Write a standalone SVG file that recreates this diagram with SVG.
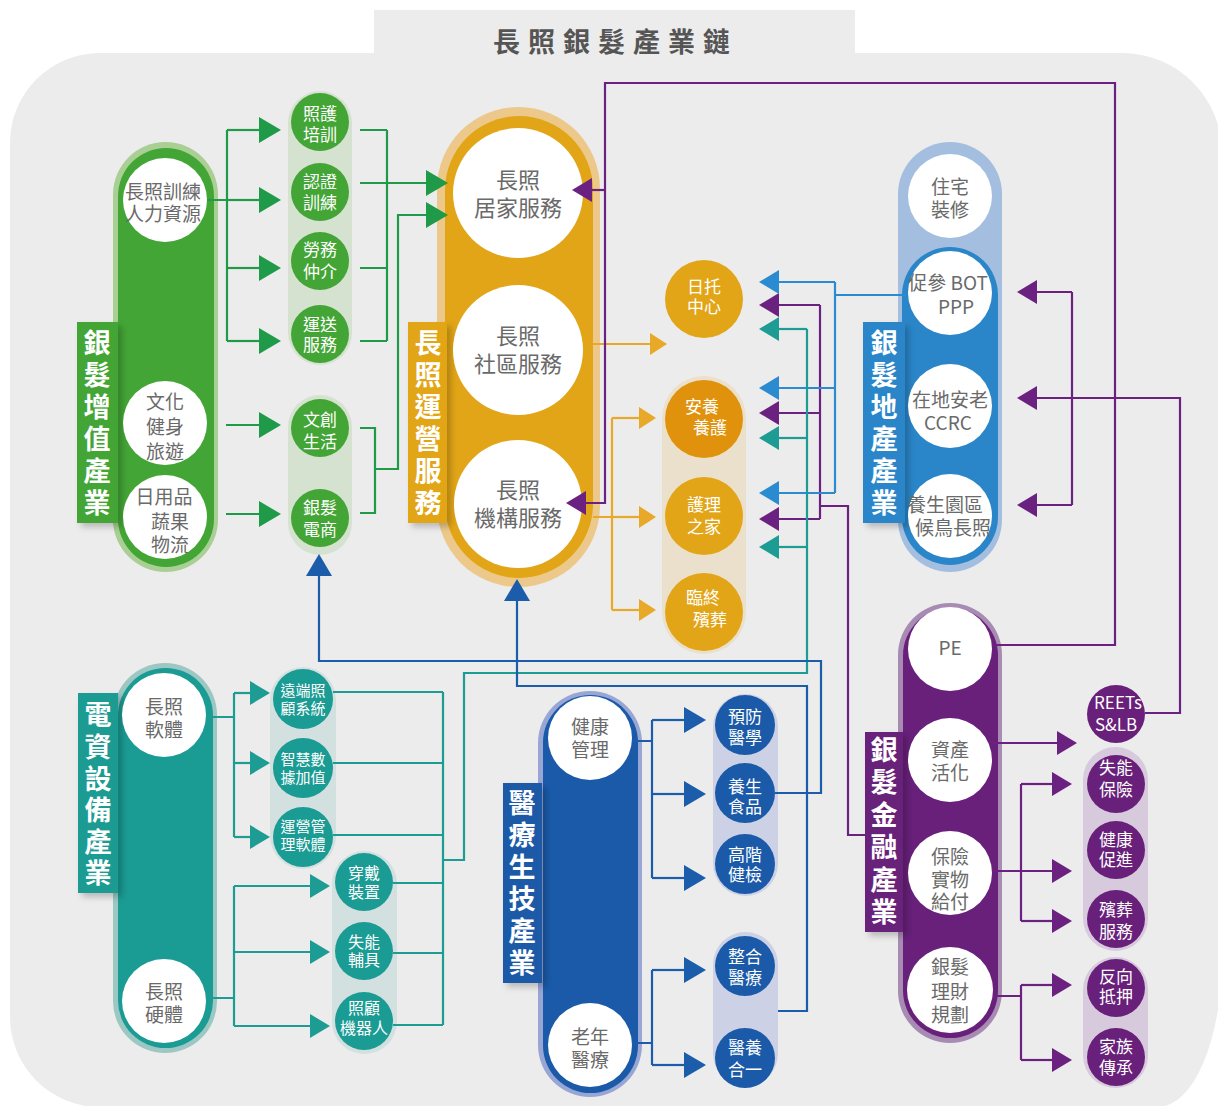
<svg xmlns="http://www.w3.org/2000/svg" width="1218" height="1106" viewBox="0 0 1218 1106">
<defs>
<style>
text{font-family:"Noto Sans CJK TC","Noto Sans CJK SC",sans-serif}
.big{font-size:19px;fill:#6a6a6a;text-anchor:middle}
.yb{font-size:22px;fill:#6a6a6a;text-anchor:middle}
.sm{font-size:17px;fill:#fff;text-anchor:middle}
.xs{font-size:15px;fill:#fff;text-anchor:middle}
.lab{font-size:27px;font-weight:bold;fill:#fff;text-anchor:middle}
.wc{fill:#fff}
.c{fill:none;stroke-width:2.2}
.cg{stroke:#1f9a48}.cy{stroke:#e8a828}.cp{stroke:#6b2180}.ce{stroke:#2a8bd0}.ct{stroke:#1d9c94}.cm{stroke:#1b5cab}
</style>
<filter id="sh" x="-30%" y="-10%" width="180%" height="130%"><feDropShadow dx="4" dy="4" stdDeviation="3" flood-color="#000" flood-opacity="0.22"/></filter>
<marker id="ag" viewBox="0 0 22 26" refX="0" refY="13" markerWidth="22" markerHeight="26" markerUnits="userSpaceOnUse" orient="auto"><path d="M0,0 L22,13 L0,26 Z" fill="#1f9a48"/></marker>
<marker id="ay" viewBox="0 0 17 22" refX="0" refY="11" markerWidth="17" markerHeight="22" markerUnits="userSpaceOnUse" orient="auto"><path d="M0,0 L17,11 L0,22 Z" fill="#e8a828"/></marker>
<marker id="ap" viewBox="0 0 20 24" refX="0" refY="12" markerWidth="20" markerHeight="24" markerUnits="userSpaceOnUse" orient="auto"><path d="M0,0 L20,12 L0,24 Z" fill="#6b2180"/></marker>
<marker id="ae" viewBox="0 0 20 24" refX="0" refY="12" markerWidth="20" markerHeight="24" markerUnits="userSpaceOnUse" orient="auto"><path d="M0,0 L20,12 L0,24 Z" fill="#2a8bd0"/></marker>
<marker id="at" viewBox="0 0 20 24" refX="0" refY="12" markerWidth="20" markerHeight="24" markerUnits="userSpaceOnUse" orient="auto"><path d="M0,0 L20,12 L0,24 Z" fill="#1d9c94"/></marker>
<marker id="am" viewBox="0 0 22 26" refX="0" refY="13" markerWidth="22" markerHeight="26" markerUnits="userSpaceOnUse" orient="auto"><path d="M0,0 L22,13 L0,26 Z" fill="#1b5cab"/></marker>
</defs>

<rect width="1218" height="1106" fill="#fff"/>
<path d="M10,143 A90,90 0 0 1 100,53 H1122 A100,100 0 0 1 1222,153 V957 A64,150 0 0 1 1158,1107 H100 A90,90 0 0 1 10,1017 Z" fill="#ececec"/>
<rect x="374" y="10" width="481" height="46" fill="#ececec"/>
<text x="493" y="52" style="font-size:27px;font-weight:bold;fill:#555;letter-spacing:8px">長照銀髮產業鏈</text>

<!-- containers -->
<g id="containers">
<rect x="113" y="142" width="105" height="430" rx="52.5" fill="#a9cf94"/>
<rect x="118" y="148" width="96" height="419" rx="48" fill="#43a535"/>
<rect x="288" y="91" width="64" height="274" rx="32" fill="#d6e2d0"/>
<rect x="288" y="395" width="64" height="160" rx="32" fill="#d6e2d0"/>

<rect x="437" y="107" width="163" height="480" rx="81.5" fill="#ecc98b"/>
<rect x="445" y="116" width="148" height="462" rx="74" fill="#e2a517"/>
<rect x="662" y="376" width="84" height="278" rx="42" fill="#ebe0cb"/>

<rect x="898" y="142" width="104" height="430" rx="52" fill="#a4bee0"/>
<rect x="902" y="247" width="96" height="318" rx="48" fill="#2a86c9"/>

<rect x="898" y="603" width="104" height="440" rx="52" fill="#a88bb3"/>
<rect x="903" y="608" width="95" height="430" rx="47.5" fill="#68207a"/>
<rect x="1083" y="747" width="65" height="204" rx="32.5" fill="#d8cadd"/>
<rect x="1083" y="957" width="65" height="131" rx="32.5" fill="#d8cadd"/>

<rect x="113" y="663" width="104" height="390" rx="52" fill="#9cc7c3"/>
<rect x="118" y="668" width="95" height="380" rx="47.5" fill="#1a9b93"/>
<rect x="270" y="667" width="66" height="202" rx="33" fill="#d3e0e0"/>
<rect x="332" y="851" width="65" height="203" rx="32.5" fill="#d3e0e0"/>

<rect x="538" y="691" width="104" height="406" rx="52" fill="#97a6d4"/>
<rect x="543" y="695" width="95" height="398" rx="47.5" fill="#1a5aa8"/>
<rect x="713" y="694" width="65" height="202" rx="32.5" fill="#cdd1e5"/>
<rect x="713" y="932" width="65" height="154" rx="32.5" fill="#cdd1e5"/>
</g>

<!-- 銀髮增值產業 -->
<g id="g-silver-value">
<rect x="77" y="322" width="41" height="201" fill="#43a535" filter="url(#sh)"/>
<text class="lab"><tspan x="97" y="353">銀</tspan><tspan x="97" y="385">髮</tspan><tspan x="97" y="417">增</tspan><tspan x="97" y="449">值</tspan><tspan x="97" y="481">產</tspan><tspan x="97" y="513">業</tspan></text>
</g>
<g id="n-hr"><circle class="wc" cx="165" cy="200" r="42"/><text class="big"><tspan x="163" y="199">長照訓練</tspan><tspan x="163" y="221">人力資源</tspan></text></g>
<g id="n-culture"><circle class="wc" cx="165" cy="423" r="42"/><text class="big"><tspan x="165" y="409">文化</tspan><tspan x="165" y="434">健身</tspan><tspan x="165" y="459">旅遊</tspan></text></g>
<g id="n-daily"><circle class="wc" cx="165" cy="517" r="42"/><text class="big"><tspan x="164" y="504">日用品</tspan><tspan x="170" y="529">蔬果</tspan><tspan x="170" y="552">物流</tspan></text></g>
<g id="n-cg-train"><circle cx="320" cy="122" r="29" fill="#43a535"/><text class="sm"><tspan x="320" y="120">照護</tspan><tspan x="320" y="141">培訓</tspan></text></g>
<g id="n-cert"><circle cx="320" cy="192" r="29" fill="#43a535"/><text class="sm"><tspan x="320" y="188">認證</tspan><tspan x="320" y="209">訓練</tspan></text></g>
<g id="n-labor"><circle cx="320" cy="261" r="29" fill="#43a535"/><text class="sm"><tspan x="320" y="256">勞務</tspan><tspan x="320" y="278">仲介</tspan></text></g>
<g id="n-transport"><circle cx="320" cy="334" r="29" fill="#43a535"/><text class="sm"><tspan x="320" y="331">運送</tspan><tspan x="320" y="351">服務</tspan></text></g>
<g id="n-creative"><circle cx="320" cy="428" r="29" fill="#43a535"/><text class="sm"><tspan x="320" y="426">文創</tspan><tspan x="320" y="448">生活</tspan></text></g>
<g id="n-ecommerce"><circle cx="320" cy="518" r="29" fill="#43a535"/><text class="sm"><tspan x="320" y="514">銀髮</tspan><tspan x="320" y="536">電商</tspan></text></g>

<!-- 長照運營服務 -->
<g id="g-ltc-ops">
<rect x="408" y="322" width="39" height="201" fill="#e2a517" filter="url(#sh)"/>
<text class="lab"><tspan x="428" y="353">長</tspan><tspan x="428" y="385">照</tspan><tspan x="428" y="417">運</tspan><tspan x="428" y="449">營</tspan><tspan x="428" y="481">服</tspan><tspan x="428" y="513">務</tspan></text>
</g>
<g id="n-home"><circle class="wc" cx="518" cy="193" r="65"/><text class="yb"><tspan x="518" y="188">長照</tspan><tspan x="518" y="216">居家服務</tspan></text></g>
<g id="n-community"><circle class="wc" cx="518" cy="350" r="65"/><text class="yb"><tspan x="518" y="344">長照</tspan><tspan x="518" y="372">社區服務</tspan></text></g>
<g id="n-institution"><circle class="wc" cx="518" cy="504" r="64"/><text class="yb"><tspan x="518" y="498">長照</tspan><tspan x="518" y="526">機構服務</tspan></text></g>
<g id="n-daycare"><circle cx="704" cy="299" r="39" fill="#e3a518"/><text class="sm"><tspan x="704" y="293">日托</tspan><tspan x="704" y="313">中心</tspan></text></g>
<g id="n-nursing"><circle cx="704" cy="419" r="39" fill="#e0920d"/><text class="sm"><tspan x="702" y="413">安養</tspan><tspan x="710" y="434">養護</tspan></text></g>
<g id="n-carehome"><circle cx="704" cy="516" r="39" fill="#e3a518"/><text class="sm"><tspan x="704" y="511">護理</tspan><tspan x="704" y="533">之家</tspan></text></g>
<g id="n-hospice"><circle cx="704" cy="612" r="39" fill="#e3a518"/><text class="sm"><tspan x="703" y="604">臨終</tspan><tspan x="710" y="626">殯葬</tspan></text></g>

<!-- 銀髮地產產業 -->
<g id="g-estate">
<rect x="863" y="322" width="42" height="201" fill="#2a86c9" filter="url(#sh)"/>
<text class="lab"><tspan x="884" y="353">銀</tspan><tspan x="884" y="385">髮</tspan><tspan x="884" y="417">地</tspan><tspan x="884" y="449">產</tspan><tspan x="884" y="481">產</tspan><tspan x="884" y="513">業</tspan></text>
</g>
<g id="n-renovation"><circle class="wc" cx="950" cy="196" r="42"/><text class="big"><tspan x="950" y="194">住宅</tspan><tspan x="950" y="217">裝修</tspan></text></g>
<g id="n-bot"><circle class="wc" cx="950" cy="293" r="42"/><text class="big"><tspan x="948" y="290">促參 BOT</tspan><tspan x="956" y="314">PPP</tspan></text></g>
<g id="n-ccrc"><circle class="wc" cx="950" cy="406" r="42"/><text class="big"><tspan x="950" y="407">在地安老</tspan><tspan x="948" y="430">CCRC</tspan></text></g>
<g id="n-resort"><circle class="wc" cx="950" cy="516" r="42"/><text class="big"><tspan x="945" y="512">養生園區</tspan><tspan x="953" y="535">候鳥長照</tspan></text></g>

<!-- 銀髮金融產業 -->
<g id="g-finance">
<rect x="865" y="732" width="38" height="200" fill="#68207a" filter="url(#sh)"/>
<text class="lab"><tspan x="884" y="760">銀</tspan><tspan x="884" y="792">髮</tspan><tspan x="884" y="825">金</tspan><tspan x="884" y="857">融</tspan><tspan x="884" y="890">產</tspan><tspan x="884" y="922">業</tspan></text>
</g>
<g id="n-pe"><circle class="wc" cx="950" cy="649" r="42"/><text class="big" x="950" y="655">PE</text></g>
<g id="n-asset"><circle class="wc" cx="950" cy="760" r="42"/><text class="big"><tspan x="950" y="757">資產</tspan><tspan x="950" y="780">活化</tspan></text></g>
<g id="n-insurance"><circle class="wc" cx="950" cy="873" r="42"/><text class="big"><tspan x="950" y="864">保險</tspan><tspan x="950" y="887">實物</tspan><tspan x="950" y="909">給付</tspan></text></g>
<g id="n-wealth"><circle class="wc" cx="950" cy="990" r="43"/><text class="big"><tspan x="950" y="974">銀髮</tspan><tspan x="950" y="999">理財</tspan><tspan x="950" y="1022">規劃</tspan></text></g>
<g id="n-reets"><circle cx="1116" cy="714" r="29" fill="#68207a"/><text class="sm"><tspan x="1118" y="709">REETs</tspan><tspan x="1116" y="731">S&amp;LB</tspan></text></g>
<g id="n-ltc-ins"><circle cx="1116" cy="784" r="29" fill="#68207a"/><text class="sm"><tspan x="1116" y="774">失能</tspan><tspan x="1116" y="796">保險</tspan></text></g>
<g id="n-health"><circle cx="1116" cy="850" r="29" fill="#68207a"/><text class="sm"><tspan x="1116" y="846">健康</tspan><tspan x="1116" y="866">促進</tspan></text></g>
<g id="n-funeral"><circle cx="1116" cy="919" r="29" fill="#68207a"/><text class="sm"><tspan x="1116" y="916">殯葬</tspan><tspan x="1116" y="938">服務</tspan></text></g>
<g id="n-reverse"><circle cx="1116" cy="988" r="29" fill="#68207a"/><text class="sm"><tspan x="1116" y="983">反向</tspan><tspan x="1116" y="1003">抵押</tspan></text></g>
<g id="n-family"><circle cx="1116" cy="1057" r="29" fill="#68207a"/><text class="sm"><tspan x="1116" y="1053">家族</tspan><tspan x="1116" y="1074">傳承</tspan></text></g>

<!-- 電資設備產業 -->
<g id="g-ict">
<rect x="78" y="693" width="40" height="200" fill="#1a9b93" filter="url(#sh)"/>
<text class="lab"><tspan x="98" y="725">電</tspan><tspan x="98" y="757">資</tspan><tspan x="98" y="789">設</tspan><tspan x="98" y="820">備</tspan><tspan x="98" y="852">產</tspan><tspan x="98" y="883">業</tspan></text>
</g>
<g id="n-software"><circle class="wc" cx="164" cy="715" r="42"/><text class="big"><tspan x="164" y="714">長照</tspan><tspan x="164" y="737">軟體</tspan></text></g>
<g id="n-hardware"><circle class="wc" cx="164" cy="1001" r="42"/><text class="big"><tspan x="164" y="999">長照</tspan><tspan x="164" y="1022">硬體</tspan></text></g>
<g id="n-remote"><circle cx="303" cy="699" r="30" fill="#1a9b93"/><text class="xs"><tspan x="303" y="696">遠端照</tspan><tspan x="303" y="714">顧系統</tspan></text></g>
<g id="n-data"><circle cx="303" cy="768" r="30" fill="#1a9b93"/><text class="xs"><tspan x="303" y="765">智慧數</tspan><tspan x="303" y="783">據加值</tspan></text></g>
<g id="n-opsw"><circle cx="303" cy="837" r="30" fill="#1a9b93"/><text class="xs"><tspan x="303" y="832">運營管</tspan><tspan x="303" y="850">理軟體</tspan></text></g>
<g id="n-wearable"><circle cx="364" cy="882" r="29" fill="#1a9b93"/><text class="sm" style="font-size:16px"><tspan x="364" y="879">穿戴</tspan><tspan x="364" y="898">裝置</tspan></text></g>
<g id="n-aids"><circle cx="364" cy="951" r="29" fill="#1a9b93"/><text class="sm" style="font-size:16px"><tspan x="364" y="948">失能</tspan><tspan x="364" y="966">輔具</tspan></text></g>
<g id="n-robot"><circle cx="364" cy="1021" r="29" fill="#1a9b93"/><text class="sm" style="font-size:16px"><tspan x="364" y="1014">照顧</tspan><tspan x="364" y="1034">機器人</tspan></text></g>

<!-- 醫療生技產業 -->
<g id="g-medical">
<rect x="503" y="783" width="39" height="200" fill="#1a5aa8" filter="url(#sh)"/>
<text class="lab"><tspan x="522" y="813">醫</tspan><tspan x="522" y="845">療</tspan><tspan x="522" y="877">生</tspan><tspan x="522" y="909">技</tspan><tspan x="522" y="941">產</tspan><tspan x="522" y="973">業</tspan></text>
</g>
<g id="n-healthmgmt"><circle class="wc" cx="590" cy="738" r="42"/><text class="big"><tspan x="590" y="734">健康</tspan><tspan x="590" y="757">管理</tspan></text></g>
<g id="n-geriatric"><circle class="wc" cx="590" cy="1045" r="42"/><text class="big"><tspan x="590" y="1044">老年</tspan><tspan x="590" y="1067">醫療</tspan></text></g>
<g id="n-prevent"><circle cx="745" cy="725" r="30" fill="#1a5aa8"/><text class="sm"><tspan x="745" y="723">預防</tspan><tspan x="745" y="744">醫學</tspan></text></g>
<g id="n-food"><circle cx="745" cy="793" r="30" fill="#1a5aa8"/><text class="sm"><tspan x="745" y="793">養生</tspan><tspan x="745" y="813">食品</tspan></text></g>
<g id="n-checkup"><circle cx="745" cy="864" r="30" fill="#1a5aa8"/><text class="sm"><tspan x="745" y="861">高階</tspan><tspan x="745" y="881">健檢</tspan></text></g>
<g id="n-integrated"><circle cx="745" cy="966" r="30" fill="#1a5aa8"/><text class="sm"><tspan x="745" y="963">整合</tspan><tspan x="745" y="984">醫療</tspan></text></g>
<g id="n-medcare"><circle cx="745" cy="1058" r="30" fill="#1a5aa8"/><text class="sm"><tspan x="745" y="1054">醫養</tspan><tspan x="745" y="1076">合一</tspan></text></g>

<!-- connectors -->
<g id="connectors">
<!-- green -->
<path class="c cg" d="M207,200 H227 M227,130 V341"/>
<path class="c cg" d="M227,130 H259" marker-end="url(#ag)"/>
<path class="c cg" d="M227,200 H259" marker-end="url(#ag)"/>
<path class="c cg" d="M227,268 H259" marker-end="url(#ag)"/>
<path class="c cg" d="M227,341 H259" marker-end="url(#ag)"/>
<path class="c cg" d="M226,425 H259" marker-end="url(#ag)"/>
<path class="c cg" d="M226,514 H259" marker-end="url(#ag)"/>
<path class="c cg" d="M360,130 H387 M360,268 H387 M360,341 H387 M387,130 V341"/>
<path class="c cg" d="M360,183 H426" marker-end="url(#ag)"/>
<path class="c cg" d="M360,428 H375 V513 H360 M375,469 H398 V215 H426" marker-end="url(#ag)"/>
<!-- yellow -->
<path class="c cy" d="M593,344 H650" marker-end="url(#ay)"/>
<path class="c cy" d="M593,517 H612 M612,418 V610"/>
<path class="c cy" d="M612,418 H639" marker-end="url(#ay)"/>
<path class="c cy" d="M612,517 H639" marker-end="url(#ay)"/>
<path class="c cy" d="M612,610 H639" marker-end="url(#ay)"/>
<!-- purple -->
<path class="c cp" d="M992,645 H1115 V83 H605 V503 H586" marker-end="url(#ap)"/>
<path class="c cp" d="M605,190 H592" marker-end="url(#ap)"/>
<path class="c cp" d="M1145,713 H1180 V398 H1037" marker-end="url(#ap)"/>
<path class="c cp" d="M1072,292 V505"/>
<path class="c cp" d="M1072,292 H1037" marker-end="url(#ap)"/>
<path class="c cp" d="M1072,505 H1037" marker-end="url(#ap)"/>
<path class="c cp" d="M992,743 H1057" marker-end="url(#ap)"/>
<path class="c cp" d="M992,871 H1052" marker-end="url(#ap)"/>
<path class="c cp" d="M1021,784 V921"/>
<path class="c cp" d="M1021,784 H1052" marker-end="url(#ap)"/>
<path class="c cp" d="M1021,921 H1052" marker-end="url(#ap)"/>
<path class="c cp" d="M993,996 H1021 M1021,985 V1060"/>
<path class="c cp" d="M1021,985 H1052" marker-end="url(#ap)"/>
<path class="c cp" d="M1021,1060 H1052" marker-end="url(#ap)"/>
<path class="c cp" d="M865,835 H848 V506 H820 M820,305 V519"/>
<path class="c cp" d="M820,305 H779" marker-end="url(#ap)"/>
<path class="c cp" d="M820,413 H779" marker-end="url(#ap)"/>
<path class="c cp" d="M820,519 H779" marker-end="url(#ap)"/>
<!-- estate blue -->
<path class="c ce" d="M906,295 H835 M835,282 V493"/>
<path class="c ce" d="M835,282 H779" marker-end="url(#ae)"/>
<path class="c ce" d="M835,388 H779" marker-end="url(#ae)"/>
<path class="c ce" d="M835,493 H779" marker-end="url(#ae)"/>
<!-- teal -->
<path class="c ct" d="M206,717 H234 M234,693 V837"/>
<path class="c ct" d="M234,693 H250" marker-end="url(#at)"/>
<path class="c ct" d="M234,763 H250" marker-end="url(#at)"/>
<path class="c ct" d="M234,837 H250" marker-end="url(#at)"/>
<path class="c ct" d="M206,998 H234 M234,886 V1026"/>
<path class="c ct" d="M234,886 H310" marker-end="url(#at)"/>
<path class="c ct" d="M234,952 H310" marker-end="url(#at)"/>
<path class="c ct" d="M234,1026 H310" marker-end="url(#at)"/>
<path class="c ct" d="M333,692 H443 M333,763 H443 M333,835 H443 M393,883 H443 M393,953 H443 M393,1025 H443 M443,692 V1025 M443,860 H464 V673 H807 V329"/>
<path class="c ct" d="M807,329 H779" marker-end="url(#at)"/>
<path class="c ct" d="M807,438 H779" marker-end="url(#at)"/>
<path class="c ct" d="M807,547 H779" marker-end="url(#at)"/>
<!-- medical blue -->
<path class="c cm" d="M632,741 H652 M652,720 V878"/>
<path class="c cm" d="M652,720 H684" marker-end="url(#am)"/>
<path class="c cm" d="M652,794 H684" marker-end="url(#am)"/>
<path class="c cm" d="M652,878 H684" marker-end="url(#am)"/>
<path class="c cm" d="M632,1043 H652 M652,970 V1065"/>
<path class="c cm" d="M652,970 H684" marker-end="url(#am)"/>
<path class="c cm" d="M652,1065 H684" marker-end="url(#am)"/>
<path class="c cm" d="M775,793 H821 V661 H319 V576" marker-end="url(#am)"/>
<path class="c cm" d="M778,1011 H807 V686 H517 V601" marker-end="url(#am)"/>
</g>
</svg>
